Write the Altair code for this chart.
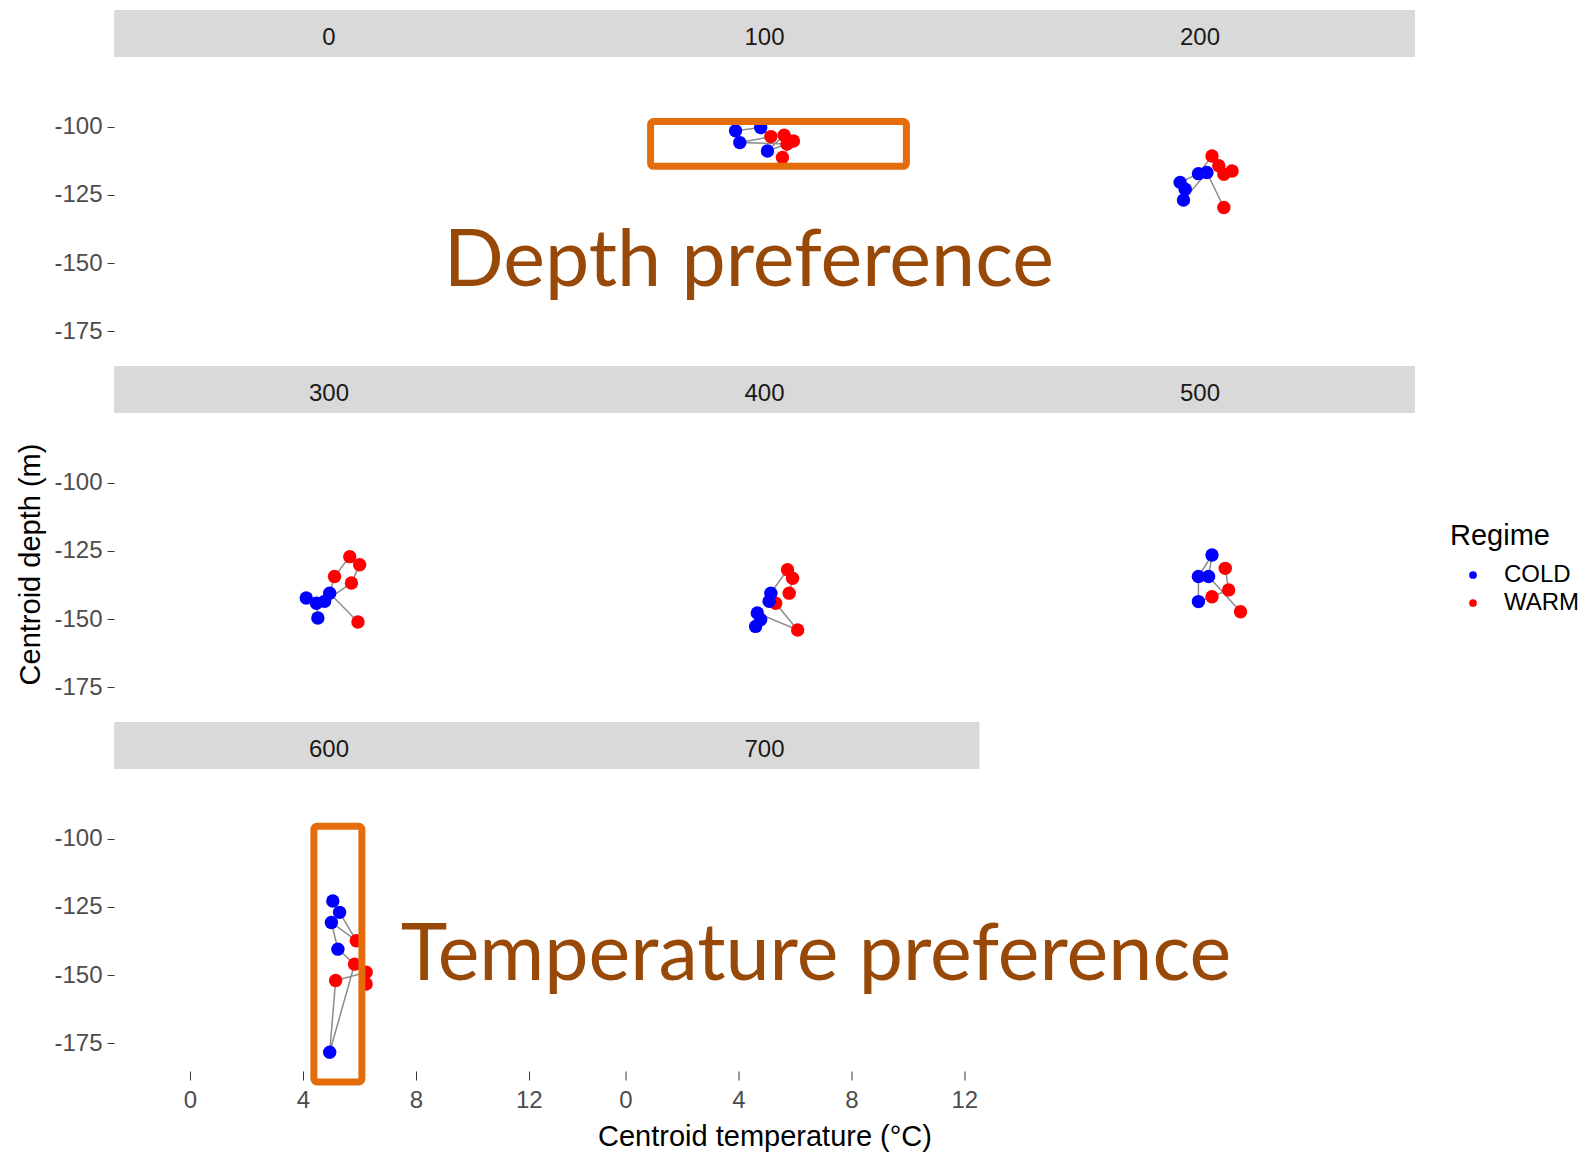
import altair as alt
import pandas as pd

# ---------------- data ----------------
panel_labels = ["0", "100", "200", "300", "400", "500", "600", "700"]

temp_0 = []
depth_0 = []
regime_0 = []

temp_100 = [3.90, 4.79, 5.15, 4.05, 5.72, 5.03, 5.62, 5.95, 5.56]
depth_100 = [-101.5, -100.3, -103.6, -105.8, -106.3, -108.9, -103.1, -105.2, -111.3]
regime_100 = ["COLD", "COLD", "WARM", "COLD", "WARM", "COLD", "WARM", "WARM", "WARM"]

temp_200 = [6.06, 5.77, 5.59, 5.35, 4.87, 4.22, 4.40, 4.34, 5.17, 5.77]
depth_200 = [-116.2, -117.4, -114.3, -110.7, -117.2, -120.4, -122.9, -126.9, -116.8, -129.6]
regime_200 = ["WARM", "WARM", "WARM", "WARM", "COLD", "COLD", "COLD", "COLD", "COLD", "WARM"]

temp_300 = [5.95, 4.95, 5.12, 5.66, 6.01, 5.72, 4.77, 4.12, 4.48, 4.53]
depth_300 = [-151.1, -140.5, -134.4, -127.1, -130.1, -136.8, -143.5, -142.3, -144.2, -149.6]
regime_300 = ["WARM", "COLD", "WARM", "WARM", "WARM", "WARM", "COLD", "COLD", "COLD", "COLD"]

temp_400 = [4.61, 4.79, 4.67, 6.10, 5.32, 5.09, 5.15, 5.74, 5.92, 5.80]
depth_400 = [-152.7, -150.2, -147.8, -154.0, -144.2, -143.5, -140.5, -131.9, -135.0, -140.5]
regime_400 = ["COLD", "COLD", "COLD", "WARM", "WARM", "COLD", "COLD", "WARM", "WARM", "WARM"]

temp_500 = [5.82, 5.94, 5.35, 4.87, 4.87, 5.35, 5.23, 6.36]
depth_500 = [-131.4, -139.3, -141.8, -143.6, -134.4, -126.5, -134.4, -147.3]
regime_500 = ["WARM", "WARM", "WARM", "COLD", "COLD", "COLD", "COLD", "WARM"]

temp_600 = [6.24, 6.24, 5.16, 4.95, 5.83, 5.24, 5.01, 5.89, 5.30, 5.06]
depth_600 = [-153.3, -149.0, -152.0, -178.3, -146.0, -140.5, -130.7, -137.4, -127.0, -122.8]
regime_600 = ["WARM", "WARM", "WARM", "COLD", "WARM", "COLD", "COLD", "WARM", "COLD", "COLD"]

temp_700 = []
depth_700 = []
regime_700 = []

regimes = ["COLD", "WARM"]
regime_colors = ["#0000FF", "#FF0000"]

y_ticks = [-100, -125, -150, -175]
x_ticks = [0, 4, 8, 12]

# annotations (data units of the panel they sit in)
box_100 = {"x1": [0.89], "x2": [9.95], "y1": [-98.1], "y2": [-114.5]}
box_600 = {"x1": [4.39], "x2": [6.09], "y1": [-95.4], "y2": [-189.2]}
note_depth = {"t": ["Depth preference"], "x": [4.37], "y": [-158.3]}
note_temp = {"t": ["Temperature preference"], "x": [22.17], "y": [-151.8]}

# ---------------- layout ----------------
W = 430
H = 302
STRIP = 47
FONT = "Liberation Sans"

xscale = alt.Scale(domain=[-2.69, 12.54], nice=False, zero=False)
yscale = alt.Scale(domain=[-185.2, -74.4], nice=False, zero=False)
cscale = alt.Scale(domain=regimes, range=regime_colors)

series = {
    "0": (temp_0, depth_0, regime_0),
    "100": (temp_100, depth_100, regime_100),
    "200": (temp_200, depth_200, regime_200),
    "300": (temp_300, depth_300, regime_300),
    "400": (temp_400, depth_400, regime_400),
    "500": (temp_500, depth_500, regime_500),
    "600": (temp_600, depth_600, regime_600),
    "700": (temp_700, depth_700, regime_700),
}

legend = alt.Legend(
    title="Regime", orient="none", legendX=1336, legendY=465,
    titleFontSize=29, titleFont=FONT, titleFontWeight="normal",
    titleColor="#000000", titlePadding=12, labelFontSize=24, labelFont=FONT,
    labelColor="#000000", symbolType="circle", symbolSize=60,
    symbolStrokeWidth=0, symbolOffset=11, rowPadding=4, labelOffset=19,
)


def make_panel(idx, label):
    col = idx % 3
    temps, depths, regs = series[label]
    df = pd.DataFrame({
        "temp": pd.Series(temps, dtype="float"),
        "depth": pd.Series(depths, dtype="float"),
        "regime": pd.Series(regs, dtype="object"),
        "i": pd.Series(list(range(len(temps))), dtype="int"),
    })

    show_y = col == 0
    show_x = label in ("600", "700")

    if show_y:
        yaxis = alt.Axis(
            values=y_ticks, labelExpr="datum.value + ''",
            title="Centroid depth (m)" if label == "300" else None,
            grid=False, domain=False, tickSize=7, tickColor="#333333",
            labelFontSize=24, labelColor="#4D4D4D", labelFont=FONT,
            labelPadding=5, titleFontSize=29, titleFont=FONT,
            titleFontWeight="normal", titleColor="#000000", titlePadding=8,
        )
    else:
        yaxis = None
    if show_x:
        xaxis = alt.Axis(
            values=x_ticks, title="Centroid temperature (°C)" if label == "700" else None,
            grid=False, domain=False, tickSize=9, tickColor="#333333",
            labelFontSize=24, labelColor="#4D4D4D", labelFont=FONT,
            labelPadding=8, titleFontSize=29, titleFont=FONT,
            titleFontWeight="normal", titleColor="#000000", titlePadding=10,
            labelAngle=0,
        )
    else:
        xaxis = None

    base = alt.Chart(df)
    lines = base.mark_line(color="#8C8C8C", strokeWidth=1.5).encode(
        x=alt.X("temp:Q", scale=xscale, axis=xaxis),
        y=alt.Y("depth:Q", scale=yscale, axis=yaxis),
        order=alt.Order("i:Q"),
    )
    points = base.mark_circle(size=180, opacity=1).encode(
        x=alt.X("temp:Q", scale=xscale, axis=xaxis),
        y=alt.Y("depth:Q", scale=yscale, axis=yaxis),
        color=alt.Color("regime:N", scale=cscale, legend=legend),
    )

    sdf = pd.DataFrame({"label": [label]})
    x_left = 0 if col == 0 else -3
    x_right = W if (col == 2 or label == "700") else W + 3
    strip = alt.Chart(sdf).mark_rect(color="#D9D9D9").encode(
        x=alt.value(x_left), x2=alt.value(x_right),
        y=alt.value(-STRIP), y2=alt.value(0),
    )
    strip_text = alt.Chart(sdf).mark_text(
        fontSize=24, font=FONT, color="#1A1A1A", baseline="middle", align="center"
    ).encode(text="label:N", x=alt.value(W / 2), y=alt.value(-STRIP / 2 + 4))

    layers = [strip, strip_text, lines, points]

    def box(d):
        return alt.Chart(pd.DataFrame(d)).mark_rect(
            fillOpacity=0, stroke="#E46C0A", strokeWidth=7, cornerRadius=3
        ).encode(
            x=alt.X("x1:Q", scale=xscale), x2="x2:Q",
            y=alt.Y("y1:Q", scale=yscale), y2="y2:Q",
        )

    def note(d):
        return alt.Chart(pd.DataFrame(d)).mark_text(
            font="Lato", fontSize=79, color="#984807", align="center",
            baseline="alphabetic",
        ).encode(
            x=alt.X("x:Q", scale=xscale), y=alt.Y("y:Q", scale=yscale), text="t:N"
        )

    if label == "100":
        layers += [box(box_100), note(note_depth)]
    if label == "600":
        layers += [box(box_600), note(note_temp)]

    return alt.layer(*layers).properties(width=W, height=H)


panels = [make_panel(i, lab) for i, lab in enumerate(panel_labels)]

chart = alt.ConcatChart(
    concat=panels, columns=3, spacing={"row": 54, "column": 5.5}, bounds="flush"
).properties(
    padding={"left": 16, "top": 10, "right": 5, "bottom": 5},
    background="white",
).configure_view(stroke=None)

chart.save("out.html", embed_options={"renderer": "svg", "actions": False})
